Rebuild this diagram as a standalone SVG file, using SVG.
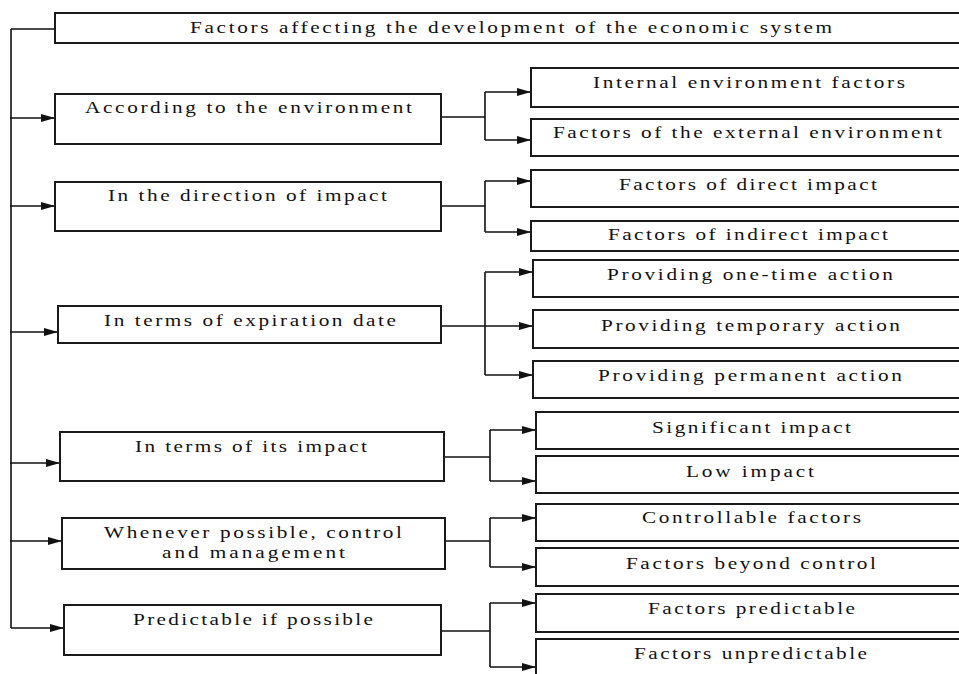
<svg xmlns="http://www.w3.org/2000/svg" width="959" height="674" viewBox="0 0 959 674">
<defs>
<style>
.box{fill:#fff;stroke:#1a1a1a;stroke-width:2}
.t{font-family:"Liberation Serif","Times New Roman",serif;font-size:17px;fill:#111}
.ln{fill:none;stroke:#111;stroke-width:1.6}
.ar{fill:none;stroke:#111;stroke-width:1.6;marker-end:url(#ah)}
</style>
<marker id="ah" markerUnits="userSpaceOnUse" markerWidth="15" markerHeight="9" refX="14" refY="4" orient="auto">
<path d="M0,0 L14,4 L0,8 z" fill="#111"/>
</marker>
</defs>
<rect width="959" height="674" fill="#fff"/>
<g id="connectors">
<path class="ln" d="M11,29 V628 M11,29 H55"/>
<path class="ar" d="M10,118 H55"/>
<path class="ar" d="M10,206 H55"/>
<path class="ar" d="M10,332 H58"/>
<path class="ar" d="M10,463 H60"/>
<path class="ar" d="M10,541 H62"/>
<path class="ar" d="M11,628 H64"/>
<path class="ln" d="M441,117 H485 M485,92 V140"/>
<path class="ar" d="M485,92 H531"/>
<path class="ar" d="M485,140 H531"/>
<path class="ln" d="M441,206 H485 M485,181 V232"/>
<path class="ar" d="M485,181 H531"/>
<path class="ar" d="M485,232 H531"/>
<path class="ln" d="M441,326 H485 M485,272 V375"/>
<path class="ar" d="M485,272 H533"/>
<path class="ar" d="M485,326 H533"/>
<path class="ar" d="M485,375 H533"/>
<path class="ln" d="M444,457 H490 M490,430 V481"/>
<path class="ar" d="M490,430 H536"/>
<path class="ar" d="M490,481 H536"/>
<path class="ln" d="M445,541 H490 M490,518 V567"/>
<path class="ar" d="M490,518 H536"/>
<path class="ar" d="M490,567 H536"/>
<path class="ln" d="M441,631 H490 M490,603 V667"/>
<path class="ar" d="M490,603 H536"/>
<path class="ar" d="M490,667 H536"/>
</g>
<g id="root"><rect class="box" x="55" y="13" width="913" height="30"/><text class="t" transform="translate(190,33) scale(1.25,1)" textLength="513.6" lengthAdjust="spacing">Factors affecting the development of the economic system</text></g>
<g id="env"><rect class="box" x="55" y="94" width="386" height="50"/><text class="t" transform="translate(85,113) scale(1.25,1)" textLength="261.6" lengthAdjust="spacing">According to the environment</text></g>
<g id="env-int"><rect class="box" x="531" y="68" width="437" height="39"/><text class="t" transform="translate(593,88) scale(1.25,1)" textLength="249.6" lengthAdjust="spacing">Internal environment factors</text></g>
<g id="env-ext"><rect class="box" x="531" y="119" width="437" height="37"/><text class="t" transform="translate(553,138) scale(1.25,1)" textLength="311.2" lengthAdjust="spacing">Factors of the external environment</text></g>
<g id="dir"><rect class="box" x="55" y="182" width="386" height="49"/><text class="t" transform="translate(108,201) scale(1.25,1)" textLength="223.2" lengthAdjust="spacing">In the direction of impact</text></g>
<g id="dir-direct"><rect class="box" x="531" y="170" width="437" height="37"/><text class="t" transform="translate(619,190) scale(1.25,1)" textLength="206.4" lengthAdjust="spacing">Factors of direct impact</text></g>
<g id="dir-indirect"><rect class="box" x="531" y="221" width="437" height="30"/><text class="t" transform="translate(608,240) scale(1.25,1)" textLength="224" lengthAdjust="spacing">Factors of indirect impact</text></g>
<g id="exp"><rect class="box" x="58" y="306" width="383" height="37"/><text class="t" transform="translate(104,326) scale(1.25,1)" textLength="233.6" lengthAdjust="spacing">In terms of expiration date</text></g>
<g id="exp-one"><rect class="box" x="533" y="260" width="435" height="37"/><text class="t" transform="translate(607,280) scale(1.25,1)" textLength="228.8" lengthAdjust="spacing">Providing one-time action</text></g>
<g id="exp-temp"><rect class="box" x="533" y="310" width="435" height="38"/><text class="t" transform="translate(601,331) scale(1.25,1)" textLength="239.2" lengthAdjust="spacing">Providing temporary action</text></g>
<g id="exp-perm"><rect class="box" x="533" y="361" width="435" height="37"/><text class="t" transform="translate(598,381) scale(1.25,1)" textLength="243.2" lengthAdjust="spacing">Providing permanent action</text></g>
<g id="imp"><rect class="box" x="60" y="432" width="384" height="49"/><text class="t" transform="translate(135,452) scale(1.25,1)" textLength="185.6" lengthAdjust="spacing">In terms of its impact</text></g>
<g id="imp-sig"><rect class="box" x="536" y="412" width="432" height="37"/><text class="t" transform="translate(652,433) scale(1.25,1)" textLength="159.2" lengthAdjust="spacing">Significant impact</text></g>
<g id="imp-low"><rect class="box" x="536" y="456" width="432" height="37"/><text class="t" transform="translate(686,477) scale(1.25,1)" textLength="102.4" lengthAdjust="spacing">Low impact</text></g>
<g id="ctl"><rect class="box" x="62" y="518" width="383" height="51"/><text class="t" transform="translate(104,538) scale(1.25,1)" textLength="238.4" lengthAdjust="spacing">Whenever possible, control</text><text class="t" transform="translate(162,558) scale(1.25,1)" textLength="146.4" lengthAdjust="spacing">and management</text></g>
<g id="ctl-yes"><rect class="box" x="536" y="504" width="432" height="37"/><text class="t" transform="translate(642,523) scale(1.25,1)" textLength="175.2" lengthAdjust="spacing">Controllable factors</text></g>
<g id="ctl-no"><rect class="box" x="536" y="548" width="432" height="38"/><text class="t" transform="translate(626,569) scale(1.25,1)" textLength="200" lengthAdjust="spacing">Factors beyond control</text></g>
<g id="pred"><rect class="box" x="64" y="605" width="377" height="50"/><text class="t" transform="translate(133,625) scale(1.25,1)" textLength="192" lengthAdjust="spacing">Predictable if possible</text></g>
<g id="pred-yes"><rect class="box" x="536" y="594" width="432" height="38"/><text class="t" transform="translate(648,614) scale(1.25,1)" textLength="165.6" lengthAdjust="spacing">Factors predictable</text></g>
<g id="pred-no"><rect class="box" x="536" y="639" width="432" height="45"/><text class="t" transform="translate(634,659) scale(1.25,1)" textLength="186.4" lengthAdjust="spacing">Factors unpredictable</text></g>
</svg>
